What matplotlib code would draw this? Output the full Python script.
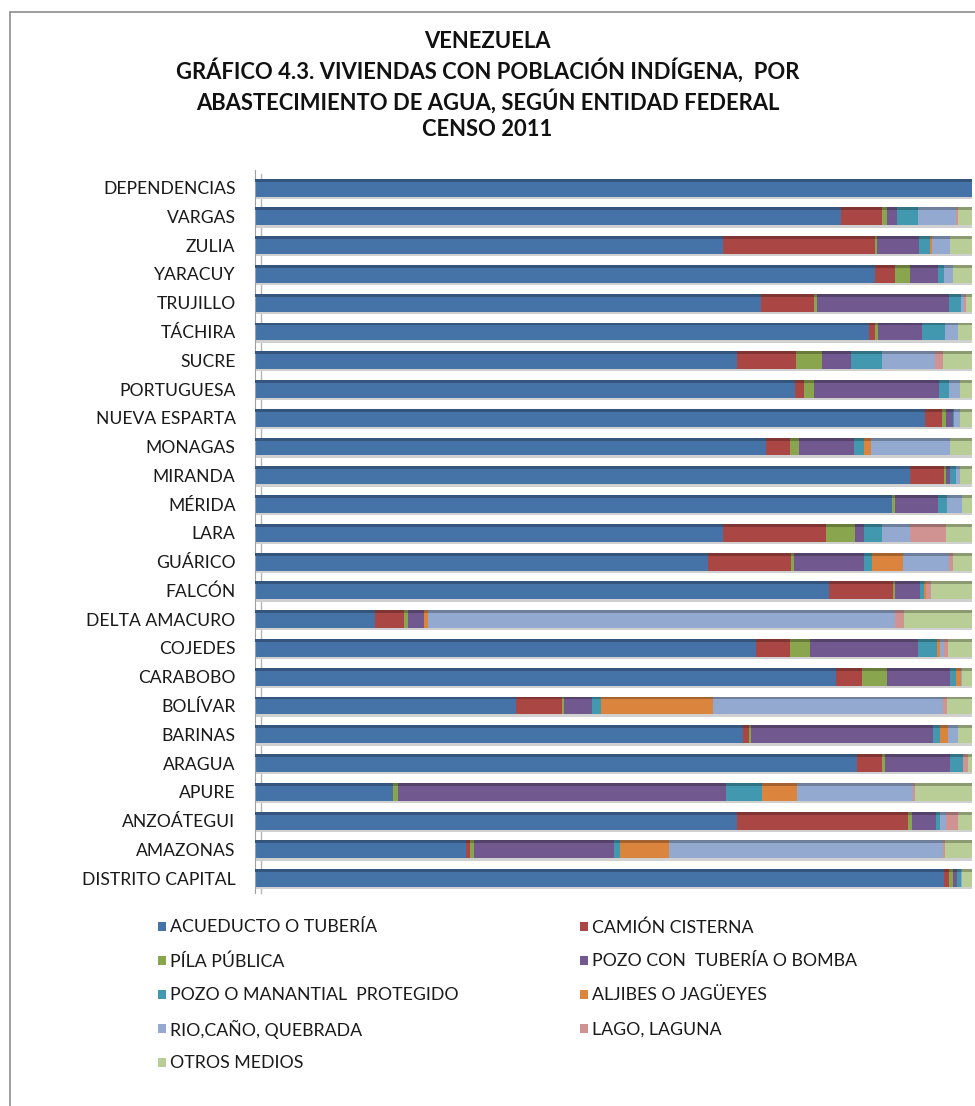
import matplotlib.pyplot as plt
from matplotlib.patches import Rectangle
from matplotlib import font_manager
import matplotlib.colors as mcolors
import numpy as np

# entities, top to bottom as shown
entidades = ["DEPENDENCIAS", "VARGAS", "ZULIA", "YARACUY", "TRUJILLO", "TÁCHIRA", "SUCRE",
             "PORTUGUESA", "NUEVA ESPARTA", "MONAGAS", "MIRANDA", "MÉRIDA", "LARA", "GUÁRICO",
             "FALCÓN", "DELTA AMACURO", "COJEDES", "CARABOBO", "BOLÍVAR", "BARINAS", "ARAGUA",
             "APURE", "ANZOÁTEGUI", "AMAZONAS", "DISTRITO CAPITAL"]

# percent of dwellings per water source
acueducto = [100, 81.7, 65.3, 86.5, 70.6, 85.7, 67.2, 75.3, 93.6, 71.2, 91.4, 88.8, 65.3,
             63.2, 80.2, 16.7, 69.8, 81.1, 36.4, 68.0, 84.0, 19.2, 67.1, 29.4, 96.1]
camion = [0, 5.7, 21.2, 2.8, 7.4, 0.8, 8.2, 1.3, 2.3, 3.4, 4.8, 0.1, 14.4,
          11.6, 8.9, 4.1, 4.8, 3.5, 6.4, 0.8, 3.5, 0.1, 23.9, 0.6, 0.7]
pila = [0, 0.8, 0.3, 2.1, 0.4, 0.4, 3.7, 1.3, 0.6, 1.2, 0.3, 0.3, 4.0,
        0.4, 0.3, 0.5, 2.7, 3.6, 0.4, 0.3, 0.3, 0.6, 0.6, 0.6, 0.6]
pozo_bomba = [0, 1.4, 5.8, 4.0, 18.5, 6.1, 4.0, 17.5, 0.9, 7.7, 0.5, 6.0, 1.3,
              9.8, 3.5, 2.3, 15.1, 8.8, 3.9, 25.4, 9.1, 45.8, 3.3, 19.4, 0.5]
pozo_manantial = [0, 2.9, 1.5, 0.8, 1.6, 3.2, 4.4, 1.4, 0.2, 1.4, 0.9, 1.3, 2.4,
                  1.0, 0.5, 0, 2.6, 0.8, 1.2, 1.0, 1.9, 5.1, 0.5, 0.9, 0.5]
aljibes = [0, 0, 0.3, 0, 0, 0, 0, 0, 0, 0.9, 0, 0, 0,
           4.4, 0.3, 0.5, 0.5, 0.6, 15.6, 1.1, 0, 4.8, 0, 6.8, 0]
rio = [0, 5.3, 2.6, 1.3, 0.5, 1.9, 7.4, 1.5, 0.8, 11.1, 0.5, 2.1, 4.0,
       6.4, 0, 65.3, 0.5, 0.2, 32.2, 1.4, 0, 16.2, 0.9, 38.3, 0.2]
lago = [0, 0.3, 0, 0, 0.3, 0, 1.1, 0, 0, 0, 0, 0, 5.0,
        0.5, 0.7, 1.2, 0.6, 0, 0.5, 0, 0.6, 0.3, 1.7, 0.3, 0]
otros = [0, 1.9, 3.0, 2.6, 0.8, 1.9, 4.0, 1.7, 1.7, 3.0, 1.7, 1.4, 3.6,
         2.7, 5.7, 9.5, 3.3, 1.4, 3.5, 1.9, 0.6, 8.0, 1.9, 3.7, 1.4]

series = [
    ("ACUEDUCTO O TUBERÍA", acueducto, "#4572A7"),
    ("CAMIÓN CISTERNA", camion, "#AA4643"),
    ("PÍLA PÚBLICA", pila, "#89A54E"),
    ("POZO CON  TUBERÍA O BOMBA", pozo_bomba, "#71588F"),
    ("POZO O MANANTIAL  PROTEGIDO", pozo_manantial, "#4198AF"),
    ("ALJIBES O JAGÜEYES", aljibes, "#DB843D"),
    ("RIO,CAÑO, QUEBRADA", rio, "#93A9CF"),
    ("LAGO, LAGUNA", lago, "#D19392"),
    ("OTROS MEDIOS", otros, "#B9CD96"),
]

available = {f.name for f in font_manager.fontManager.ttflist}
label_font = "Lato" if "Lato" in available else "DejaVu Sans"

W, H = 975, 1106
fig = plt.figure(figsize=(W / 100, H / 100), dpi=100)
fig.patches.append(Rectangle((10 / W, -0.01), 1.0, 1 - 12 / H + 0.01,
                             transform=fig.transFigure, fill=False,
                             edgecolor="#8c8c8c", linewidth=1.2))

ax = fig.add_axes([255 / W, 0.193, 717 / W, 0.653])

# 100% stacked bars, drawn bottom-up
ent_rev = entidades[::-1]
y = np.arange(len(ent_rev))
totals = np.sum([np.array(s[1][::-1]) for s in series], axis=0)
bar_h = 0.62

# light grey floor shadow under every bar
ax.barh(y - bar_h / 2 - 0.04, 100, height=0.08, color="#d0d0d0", edgecolor="none", zorder=1)

left = np.zeros(len(ent_rev))
for name, vals, col in series:
    v = np.array(vals[::-1]) / totals * 100
    ax.barh(y, v, left=left, height=bar_h, color=col, edgecolor="none", label=name, zorder=2)
    # darker top face to mimic the 3D look
    dark = np.array(mcolors.to_rgb(col)) * 0.75
    ax.barh(y + bar_h / 2 - 0.05, v, left=left, height=0.10, color=dark,
            edgecolor="none", zorder=3)
    left += v

ax.set_xlim(0, 100)
ax.set_ylim(-0.5, 24.6)
ax.set_yticks(y)
ax.set_yticklabels(ent_rev, fontsize=12.6, family=label_font, color="#1a1a1a")
ax.tick_params(axis="y", length=0, pad=14)
ax.xaxis.set_visible(False)
for s in ["top", "right", "bottom"]:
    ax.spines[s].set_visible(False)
ax.spines["left"].set_color("#a0a0a0")
# second line of the thin side wall
ax.plot([0.009, 0.009], [0, 0.995], transform=ax.transAxes, color="#b5b5b5",
        linewidth=1.0, zorder=0, clip_on=False)

title = ("VENEZUELA\nGRÁFICO 4.3. VIVIENDAS CON POBLACIÓN INDÍGENA,  POR\n"
         "ABASTECIMIENTO DE AGUA, SEGÚN ENTIDAD FEDERAL\nCENSO 2011")
fig.text(0.5, 1 - 31 / H, title, ha="center", va="top", fontsize=15.8,
         fontweight="bold", family=label_font, linespacing=1.3, color="#111111")

# legend: two columns, filled row by row like the original
col_x = [158, 580]
for i, (name, _, col) in enumerate(series):
    row, c = divmod(i, 2)
    yc = 1 - (926 + 34 * row) / H
    fig.patches.append(Rectangle((col_x[c] / W, yc - 4.5 / H), 8 / W, 9 / H,
                                 transform=fig.transFigure, facecolor=col,
                                 edgecolor="none"))
    fig.text((col_x[c] + 12) / W, yc, name, ha="left", va="center_baseline",
             fontsize=12.8, family=label_font, color="#1a1a1a")

fig.savefig("out.png", dpi=100)
